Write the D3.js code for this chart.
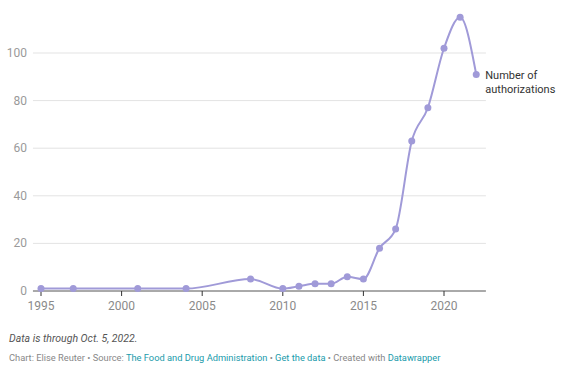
<!DOCTYPE html>
<html>
<head>
<meta charset="utf-8">
<script src="https://cdn.jsdelivr.net/npm/d3@7.9.0/dist/d3.min.js"></script>
<style>
  body { margin: 0; background: #fff; font-family: Roboto, "Noto Sans", sans-serif; }
  svg { display: block; }
</style>
</head>
<body>
<svg id="chart" width="573" height="373"></svg>
<script>
// ---------- DATA ----------
const years = [1995, 1997, 2001, 2004, 2008, 2010, 2011, 2012, 2013, 2014, 2015, 2016, 2017, 2018, 2019, 2020, 2021, 2022];
const counts = [1, 1, 1, 1, 5, 1, 2, 3, 3, 6, 5, 18, 26, 63, 77, 102, 115, 91];
const yTicks = [0, 20, 40, 60, 80, 100];
const xTicks = [1995, 2000, 2005, 2010, 2015, 2020];
const seriesLabel = ["Number of", "authorizations"];

const data = years.map((y, i) => ({ year: y, value: counts[i] }));

// ---------- SCALES ----------
const svg = d3.select("#chart");
const x = d3.scaleLinear().domain([1995, 2020]).range([41, 444]);
const y = d3.scaleLinear().domain([0, 100]).range([291, 53]);
const left = x(1994.5), right = x(2022.6);

// GRIDLINES
svg.append("g")
  .selectAll("line")
  .data(yTicks.filter(d => d > 0))
  .join("line")
  .attr("x1", left).attr("x2", right)
  .attr("y1", d => y(d)).attr("y2", d => y(d))
  .attr("stroke", "#e3e3e3").attr("stroke-width", 1);

// Y LABELS
svg.append("g")
  .selectAll("text")
  .data(yTicks)
  .join("text")
  .attr("x", 27).attr("y", d => y(d) + 4)
  .attr("text-anchor", "end")
  .attr("fill", "#9a9a9a")
  .attr("font-size", 12)
  .text(d => d);

// X AXIS
const xAxis = svg.append("g").attr("transform", `translate(0,${y(0)})`);
xAxis.append("line")
  .attr("x1", left).attr("x2", right)
  .attr("stroke", "#555").attr("stroke-width", 1);
xAxis.selectAll(".tick")
  .data(xTicks)
  .join("line")
  .attr("x1", d => x(d)).attr("x2", d => x(d))
  .attr("y1", 0).attr("y2", 5)
  .attr("stroke", "#333");
xAxis.selectAll("text")
  .data(xTicks)
  .join("text")
  .attr("x", d => x(d)).attr("y", 19)
  .attr("text-anchor", "middle")
  .attr("fill", "#8a8a8a")
  .attr("font-size", 12)
  .text(d => d);

// LINE
const color = "#a09ad8";
const line = d3.line()
  .x(d => x(d.year))
  .y(d => y(d.value))
  .curve(d3.curveMonotoneX);

svg.append("path")
  .datum(data)
  .attr("d", line)
  .attr("fill", "none")
  .attr("stroke", color)
  .attr("stroke-width", 2);

svg.append("g")
  .selectAll("circle")
  .data(data)
  .join("circle")
  .attr("cx", d => x(d.year))
  .attr("cy", d => y(d.value))
  .attr("r", 3.5)
  .attr("fill", color);

// SERIES LABEL
const last = data[data.length - 1];
svg.append("text")
  .attr("x", x(last.year) + 9)
  .attr("y", y(last.value) + 5)
  .attr("fill", "#333")
  .attr("font-size", 11)
  .selectAll("tspan")
  .data(seriesLabel)
  .join("tspan")
  .attr("x", x(last.year) + 9)
  .attr("dy", (d, i) => i === 0 ? 0 : 13.5)
  .text(d => d);

// ---------- FOOTER ----------
svg.append("text")
  .attr("x", 9).attr("y", 342)
  .attr("fill", "#555")
  .attr("font-size", 10.5)
  .attr("font-style", "italic")
  .text("Data is through Oct. 5, 2022.");

const src = svg.append("text")
  .attr("x", 9).attr("y", 361)
  .attr("font-size", 9.3)
  .attr("fill", "#888");
const parts = [
  ["Chart: Elise Reuter • Source: ", "#888"],
  ["The Food and Drug Administration", "#1a9bab"],
  [" • ", "#888"],
  ["Get the data", "#1a9bab"],
  [" • Created with ", "#888"],
  ["Datawrapper", "#1a9bab"]
];
src.selectAll("tspan")
  .data(parts)
  .join("tspan")
  .attr("fill", d => d[1])
  .text(d => d[0]);
</script>
</body>
</html>
